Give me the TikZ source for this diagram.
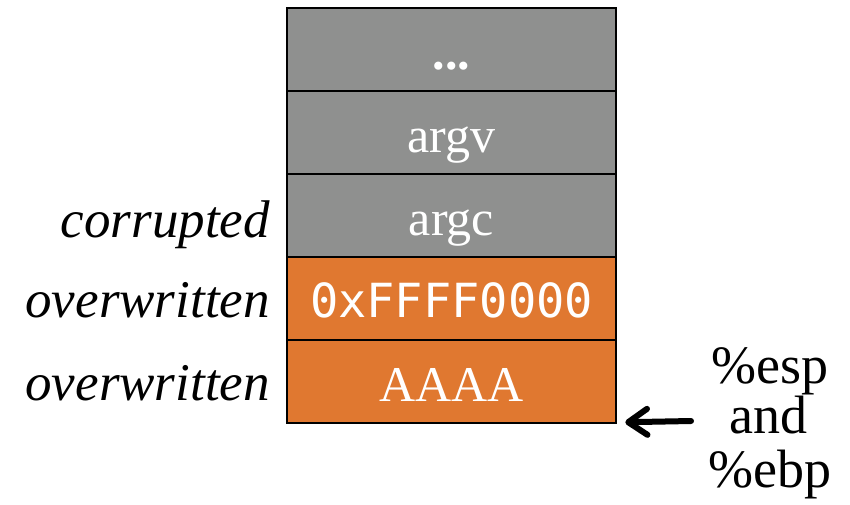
\documentclass[tikz,border=0pt]{standalone}
\usepackage{fontspec}
\setmainfont{Liberation Serif}
\setmonofont{DejaVu Sans Mono}
\usetikzlibrary{arrows.meta}
\definecolor{stackgray}{HTML}{8F908F}
\definecolor{stackorange}{HTML}{E07830}
\tikzset{
  cell/.style={draw=black, line width=2.5pt, minimum width=329pt, minimum height=83pt, inner sep=0pt, text height=40pt, text depth=0pt, text=white, font=\fontsize{50}{55}\selectfont},
  grcell/.style={cell, fill=stackgray},
  orcell/.style={cell, fill=stackorange},
  sidelabel/.style={anchor=base east, inner sep=0pt, font=\fontsize{53}{55}\selectfont\itshape},
  reglabel/.style={anchor=base, inner sep=0pt, font=\fontsize{54}{55}\selectfont},
  ptrarrow/.style={line width=6pt, line cap=round, -{Straight Barb[length=19pt,width=26pt,round]}}
}
\begin{document}
\begin{tikzpicture}[x=1pt,y=-1pt]
\useasboundingbox (0,0) rectangle (850,504);
\node[grcell, font=\fontsize{50}{55}\selectfont\bfseries] (b1) at (451.5,49.5) {...};
\node[grcell] (b2) at (451.5,132.5) {argv};
\node[grcell] (b3) at (451.5,215.5) {argc};
\node[orcell, font=\fontsize{47}{55}\selectfont\ttfamily, text height=37pt] (b4) at (451.5,298.5) {0xFFFF0000};
\node[orcell] (b5) at (451.5,381.5) {AAAA};
\node[sidelabel] (l3) at (270,237) {corrupted};
\node[sidelabel] (l4) at (270,317) {overwritten};
\node[sidelabel] (l5) at (270,400) {overwritten};
\node[reglabel] (r1) at (770,383) {\%esp};
\node[reglabel] (r2) at (768,433) {and};
\node[reglabel] (r3) at (770,487) {\%ebp};
\coordinate (ptr) at (691,421);
\draw[ptrarrow] (ptr) -- ([xshift=8pt,yshift=2pt]b5.south east);
\end{tikzpicture}
\end{document}
